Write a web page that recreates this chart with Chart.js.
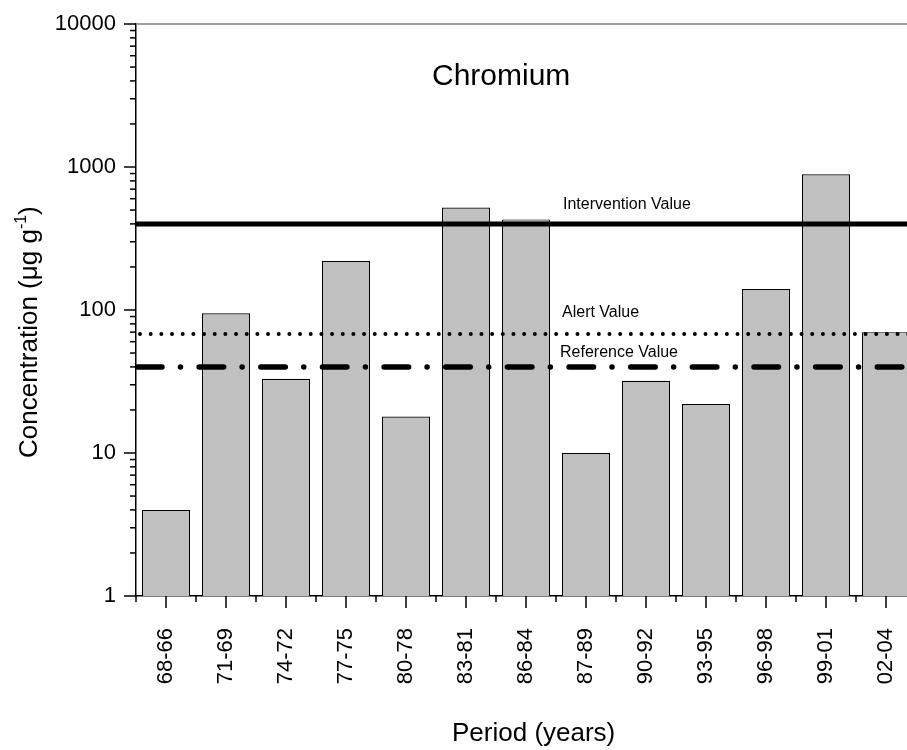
<!DOCTYPE html>
<html>
<head>
<meta charset="utf-8">
<script src="https://cdn.jsdelivr.net/npm/chart.js@4/dist/chart.umd.min.js"></script>
<style>
html, body { margin: 0; padding: 0; background: #fff; overflow: hidden; }
#wrap { width: 907px; height: 750px; overflow: hidden; }
</style>
</head>
<body>
<div id="wrap"><canvas id="chart" width="920" height="750" style="width:920px;height:750px"></canvas></div>
<script>
// Данные графика
const periods = ['68-66', '71-69', '74-72', '77-75', '80-78', '83-81', '86-84', '87-89', '90-92', '93-95', '96-98', '99-01', '02-04'];
const chromium = [4, 95, 33, 220, 18, 520, 430, 10, 32, 22, 140, 890, 70];
const yTicks = [1, 10, 100, 1000, 10000];
const limitNames = ['Intervention Value', 'Alert Value', 'Reference Value'];
const limitValues = [400, 68, 40];

const FONT = '"Liberation Sans", Arial, sans-serif';

function strokeLine(ctx, x1, y1, x2, y2) {
    ctx.beginPath();
    ctx.moveTo(x1, y1);
    ctx.lineTo(x2, y2);
    ctx.stroke();
}

// Засечки, линии порогов и подписи
const extras = {
    id: 'extras',
    afterDraw(chart) {
        const ctx = chart.ctx;
        const { left, right, top, bottom } = chart.chartArea;
        const xs = chart.scales.x;
        const ys = chart.scales.y;
        ctx.save();

        // верхняя рамка
        ctx.strokeStyle = '#808080';
        ctx.lineWidth = 1.5;
        strokeLine(ctx, left, top, right, top);

        // засечки оси Y
        ctx.strokeStyle = '#000';
        ctx.lineWidth = 1.5;
        for (let d = 1; d < 10000; d *= 10) {
            for (let k = 1; k <= 9; k++) {
                const p = ys.getPixelForValue(d * k);
                strokeLine(ctx, left - (k === 1 ? 12 : 6), p, left, p);
            }
        }
        const pTop = ys.getPixelForValue(10000);
        strokeLine(ctx, left - 12, pTop, left, pTop);

        // засечки оси X
        for (let i = 0; i < periods.length; i++) {
            const c = xs.getPixelForValue(i);
            strokeLine(ctx, c, bottom, c, bottom + 12);
            const b = i === 0 ? left : (xs.getPixelForValue(i - 1) + c) / 2;
            strokeLine(ctx, b, bottom, b, bottom + 6);
        }
        const last = xs.getPixelForValue(periods.length - 1) + (xs.getPixelForValue(1) - xs.getPixelForValue(0)) / 2;
        strokeLine(ctx, last, bottom, last, bottom + 6);

        // Intervention Value - сплошная
        let py = ys.getPixelForValue(limitValues[0]);
        ctx.lineWidth = 5;
        ctx.lineCap = 'butt';
        ctx.setLineDash([]);
        strokeLine(ctx, left, py, right, py);

        // Alert Value - точки
        py = ys.getPixelForValue(limitValues[1]);
        ctx.lineWidth = 4;
        ctx.lineCap = 'round';
        ctx.setLineDash([0, 10.67]);
        strokeLine(ctx, left + 4, py, right, py);

        // Reference Value - штрих-пунктир
        py = ys.getPixelForValue(limitValues[2]);
        ctx.lineWidth = 5.5;
        ctx.setLineDash([24.5, 18.45, 0, 18.7]);
        strokeLine(ctx, left + 1.5, py, right, py);
        ctx.setLineDash([]);
        ctx.lineCap = 'butt';

        // подписи линий
        ctx.fillStyle = '#000';
        ctx.font = '16px ' + FONT;
        ctx.textAlign = 'left';
        ctx.textBaseline = 'alphabetic';
        ctx.fillText(limitNames[0], 563, 209);
        ctx.fillText(limitNames[1], 562, 317);
        ctx.fillText(limitNames[2], 560, 357);

        // заголовок
        ctx.font = '30px ' + FONT;
        ctx.fillText('Chromium', 432, 85);

        // подпись оси X
        ctx.font = '26px ' + FONT;
        ctx.fillText('Period (years)', 452, 741);

        // подпись оси Y с верхним индексом
        ctx.translate(37, 458);
        ctx.rotate(-Math.PI / 2);
        ctx.font = '26px ' + FONT;
        const main = 'Concentration (μg g';
        ctx.fillText(main, 0, 0);
        let w = ctx.measureText(main).width;
        ctx.font = '16px ' + FONT;
        ctx.fillText('-1', w, -11);
        w += ctx.measureText('-1').width;
        ctx.font = '26px ' + FONT;
        ctx.fillText(')', w, 0);

        ctx.restore();
    }
};

new Chart(document.getElementById('chart').getContext('2d'), {
    type: 'bar',
    data: {
        labels: periods,
        datasets: [{
            data: chromium,
            backgroundColor: '#c0c0c0',
            borderColor: '#000',
            borderWidth: 1.2,
            barPercentage: 0.8,
            categoryPercentage: 1
        }]
    },
    options: {
        responsive: false,
        animation: false,
        devicePixelRatio: 1,
        layout: { padding: { top: 24, right: 4, left: 0, bottom: 0 } },
        plugins: {
            legend: { display: false },
            tooltip: { enabled: false }
        },
        scales: {
            x: {
                type: 'category',
                offset: true,
                z: 1,
                grid: { display: false, drawTicks: false },
                border: { display: true, color: '#000', width: 1.5 },
                ticks: {
                    autoSkip: false,
                    minRotation: 90,
                    maxRotation: 90,
                    padding: 32,
                    color: '#000',
                    font: { family: FONT, size: 22 }
                },
                afterFit(s) {
                    s.height = 154;
                    s.paddingLeft = 0;
                    s.paddingRight = 0;
                }
            },
            y: {
                type: 'logarithmic',
                min: 1,
                max: 10000,
                z: 1,
                grid: { display: false, drawTicks: false },
                border: { display: true, color: '#000', width: 1.5 },
                ticks: {
                    padding: 20,
                    color: '#000',
                    font: { family: FONT, size: 22 },
                    callback: v => String(v)
                },
                afterBuildTicks(s) { s.ticks = yTicks.map(v => ({ value: v })); },
                afterFit(s) {
                    s.width = 136;
                    s.paddingTop = 0;
                    s.paddingBottom = 0;
                }
            }
        }
    },
    plugins: [extras]
});
</script>
</body>
</html>
